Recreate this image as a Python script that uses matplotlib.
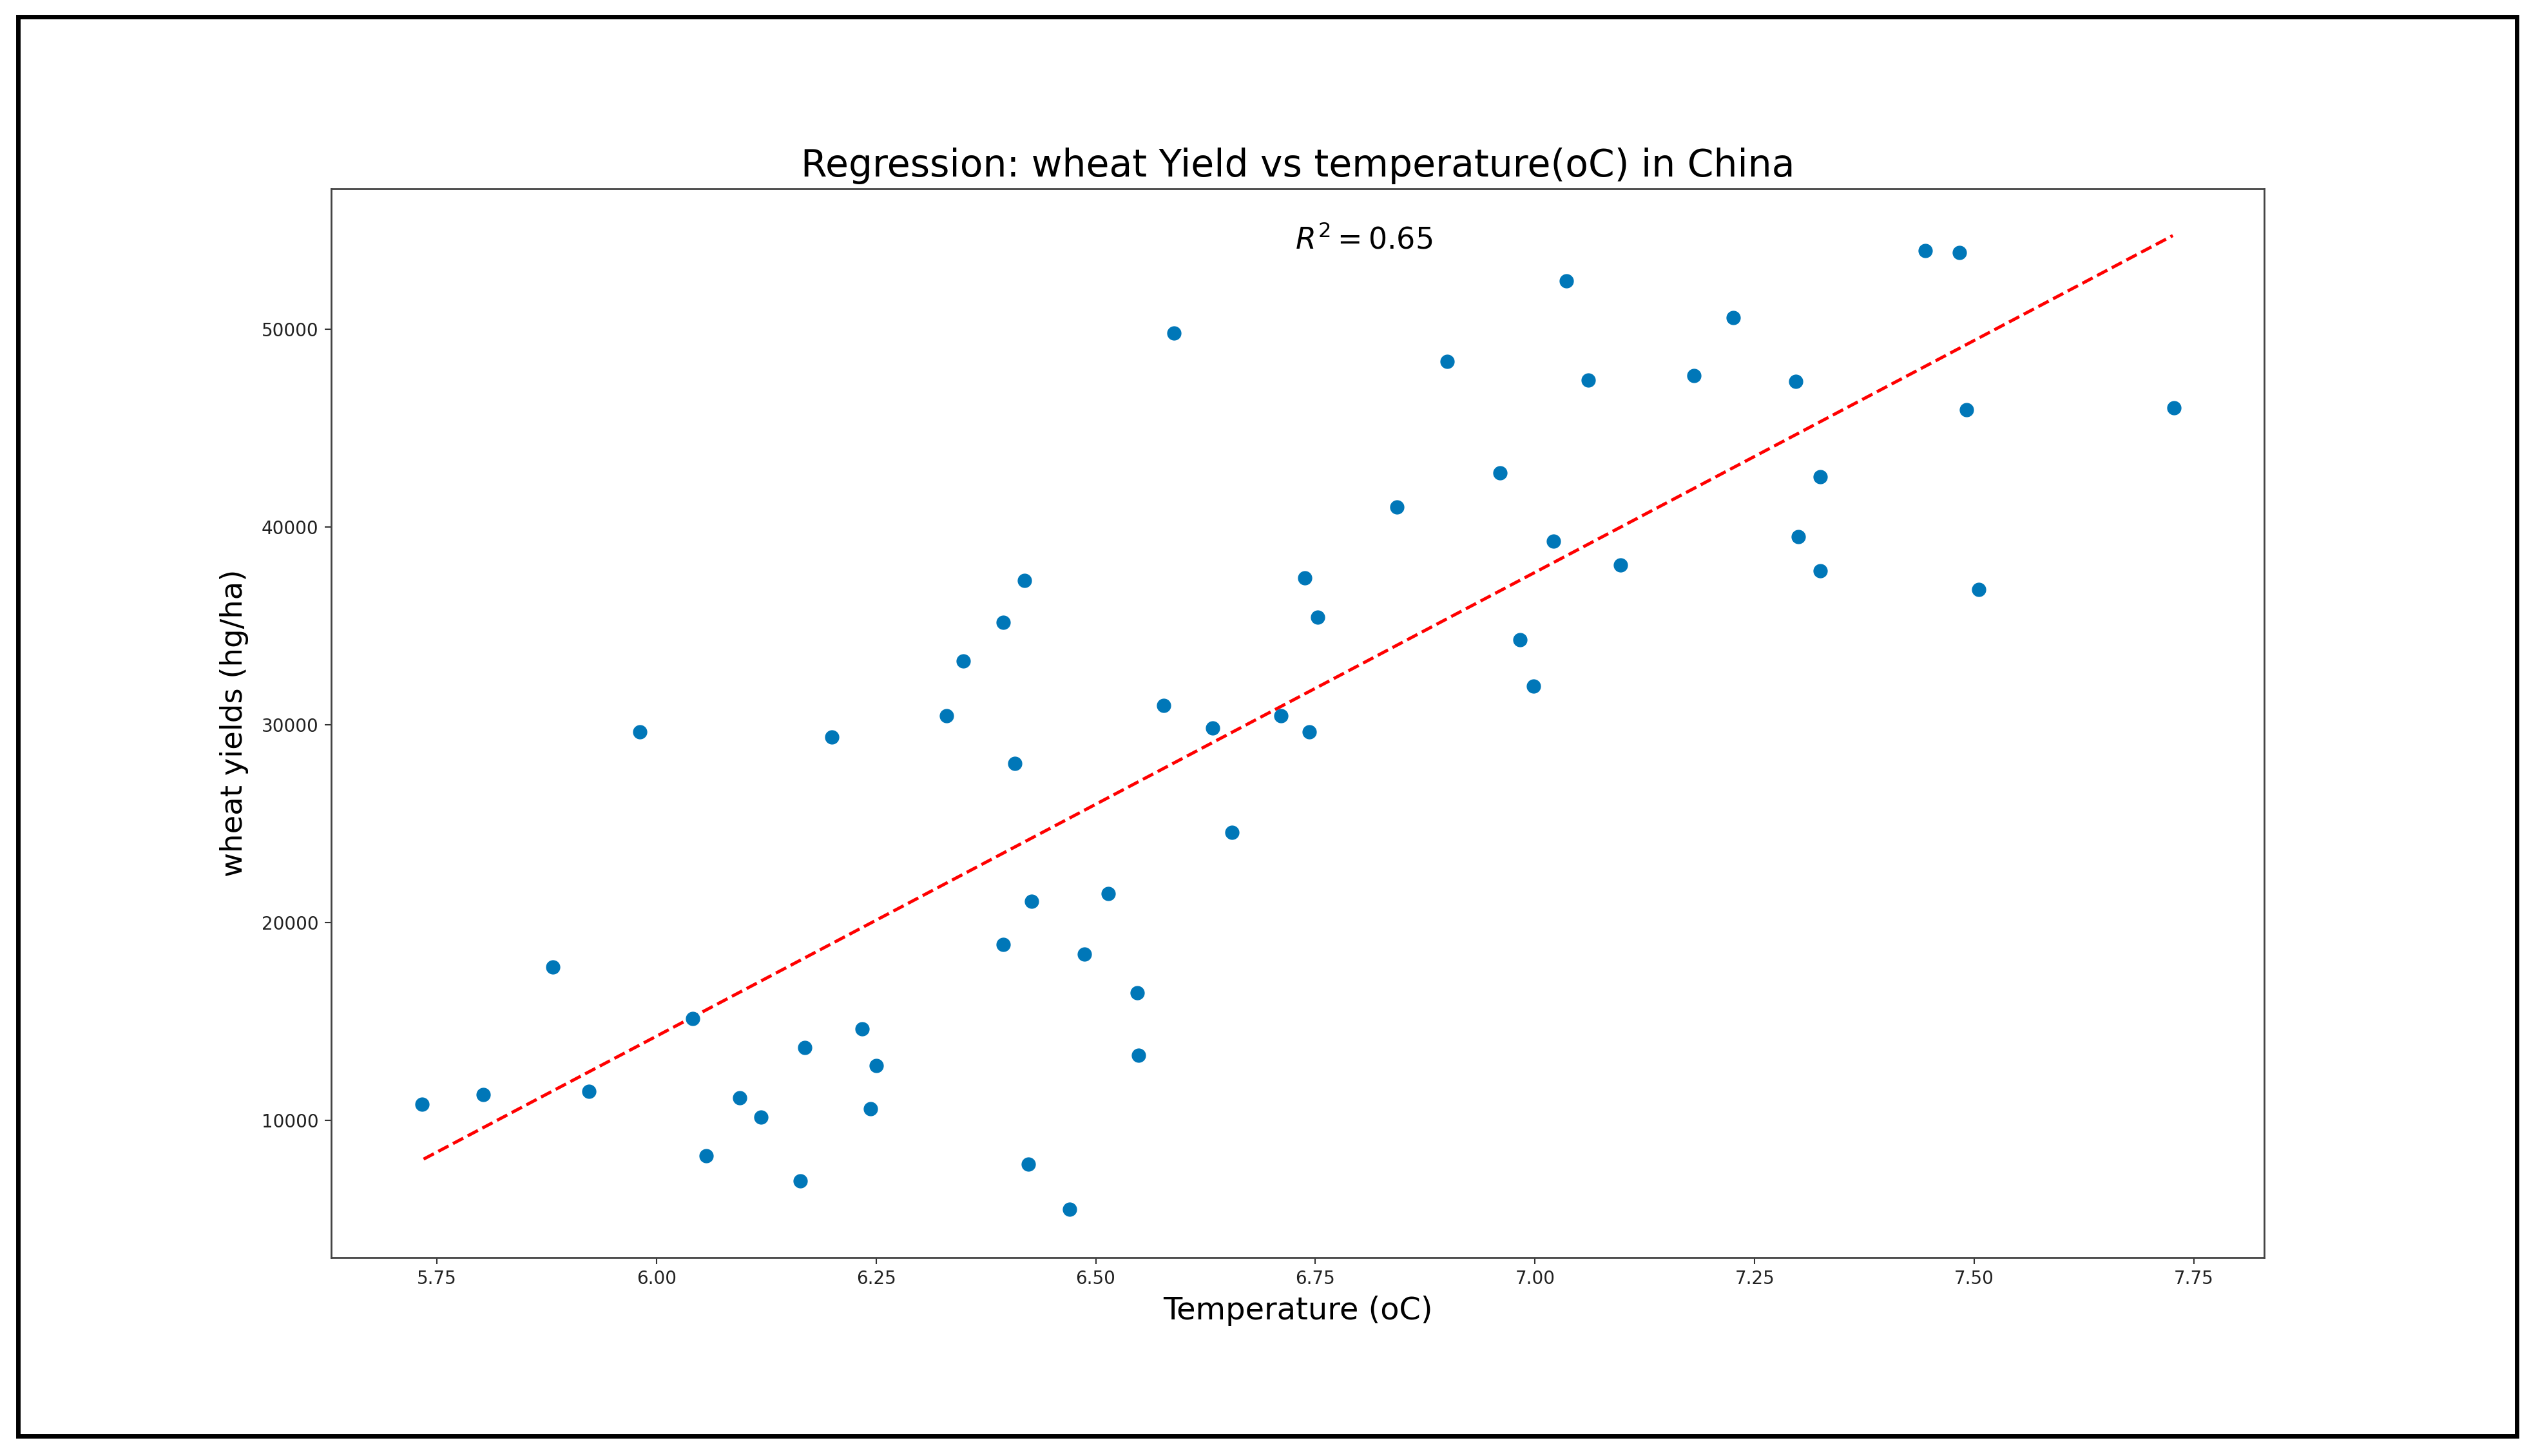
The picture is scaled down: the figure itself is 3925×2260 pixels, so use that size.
import matplotlib
matplotlib.use('Agg')
import matplotlib.pyplot as plt
from matplotlib.patches import Rectangle

temps = [5.733, 5.803, 5.882, 5.923, 5.981, 6.041, 6.057, 6.095, 6.119, 6.164,
         6.169, 6.200, 6.234, 6.244, 6.250, 6.330, 6.349, 6.395, 6.395, 6.408,
         6.419, 6.423, 6.427, 6.470, 6.487, 6.514, 6.547, 6.549, 6.577, 6.589,
         6.633, 6.655, 6.711, 6.738, 6.743, 6.753, 6.843, 6.900, 6.960, 6.983,
         6.998, 7.021, 7.036, 7.061, 7.097, 7.181, 7.226, 7.297, 7.300, 7.325,
         7.325, 7.444, 7.483, 7.491, 7.505, 7.727]
yields = [10815, 11300, 17740, 11470, 29630, 15130, 8210, 11140, 10160, 6950,
          13670, 29390, 14640, 10570, 12770, 30450, 33220, 35170, 18880, 28040,
          37290, 7800, 21080, 5520, 18390, 21450, 16440, 13300, 30980, 49800,
          29840, 24550, 30450, 37420, 29630, 35420, 41000, 48370, 42710, 34280,
          31950, 39290, 52440, 47430, 38060, 47640, 50570, 47350, 39490, 42540,
          37780, 53950, 53870, 45930, 36840, 46010]
fit_x = [5.735, 7.726]
fit_y = [8040, 54720]
xticks = [5.75, 6.00, 6.25, 6.50, 6.75, 7.00, 7.25, 7.50, 7.75]
yticks = [10000, 20000, 30000, 40000, 50000]

W, H = 3925, 2260
fig = plt.figure(figsize=(W / 100, H / 100), dpi=100, facecolor='white')

# outer black border around the whole screenshot
fig.add_artist(Rectangle((27.5 / W, 1 - 2228.5 / H), 3878 / W, 2203 / H, fill=False,
                         edgecolor='black', linewidth=5, transform=fig.transFigure))

ax = fig.add_axes([514 / W, 1 - 1952 / H, 3000 / W, 1659 / H])
ax.scatter(temps, yields, s=225, color='#0077B8', zorder=3)
ax.plot(fit_x, fit_y, color='red', linestyle='--', linewidth=3.5, zorder=2)

ax.set_xlim(5.6298, 7.830)
ax.set_ylim(3064, 57086)
ax.set_xticks(xticks)
ax.set_xticklabels(['%.2f' % t for t in xticks])
ax.set_yticks(yticks)
ax.tick_params(axis='both', labelsize=20, length=7, width=1.5, pad=7, color='#333333', labelcolor='#222222')
for s in ax.spines.values():
    s.set_linewidth(2)
    s.set_color('#444444')

ax.set_title('Regression: wheat Yield vs temperature(oC) in China', fontsize=42, pad=14)
ax.set_xlabel('Temperature (oC)', fontsize=34.5, labelpad=8)
ax.set_ylabel('wheat yields (hg/ha)', fontsize=33.5, labelpad=14)
ax.text(6.727, 54090, '$R^2 = 0.65$', fontsize=33)

fig.savefig('out.png', dpi=100)
